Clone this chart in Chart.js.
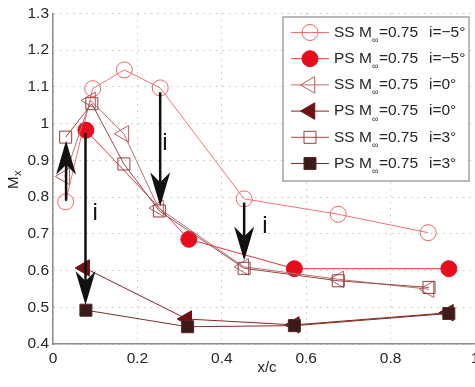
<!DOCTYPE html>
<html>
<head>
<meta charset="utf-8">
<script src="https://cdn.jsdelivr.net/npm/chart.js@4.4.1/dist/chart.umd.min.js"></script>
<style>
  html, body { margin: 0; padding: 0; background: #fff; overflow: hidden; }
  #wrap { width: 500px; height: 387px; }
</style>
</head>
<body>
<div id="wrap"><canvas id="chart" width="500" height="387"></canvas></div>
<script>
// --- data ---
const xSSm5 = [0.030, 0.094, 0.169, 0.254, 0.453, 0.676, 0.889];
const ySSm5 = [0.787, 1.095, 1.146, 1.097, 0.795, 0.753, 0.703];
const xPSm5 = [0.078, 0.322, 0.572, 0.938];
const yPSm5 = [0.982, 0.685, 0.605, 0.605];
const xSS0 = [0.028, 0.089, 0.168, 0.250, 0.452, 0.677, 0.891];
const ySS0 = [0.856, 1.063, 0.972, 0.770, 0.610, 0.576, 0.549];
const xPS0 = [0.075, 0.317, 0.572, 0.937];
const yPS0 = [0.607, 0.468, 0.452, 0.485];
const xSS3 = [0.030, 0.092, 0.168, 0.252, 0.453, 0.676, 0.891];
const ySS3 = [0.963, 1.054, 0.890, 0.762, 0.606, 0.572, 0.554];
const xPS3 = [0.078, 0.319, 0.572, 0.938];
const yPS3 = [0.492, 0.447, 0.450, 0.483];

const seriesNames = ['SS', 'PS', 'SS', 'PS', 'SS', 'PS'];
const seriesAngles = ['i=\u22125\u00b0', 'i=\u22125\u00b0', 'i=0\u00b0', 'i=0\u00b0', 'i=3\u00b0', 'i=3\u00b0'];

// incidence arrows (x, start y, tip y) and the "i" labels
const arrowX = [0.031, 0.077, 0.254, 0.453];
const arrowFrom = [0.790, 0.975, 1.085, 0.785];
const arrowTo = [0.953, 0.506, 0.775, 0.627];
const labelX = [0.100, 0.265, 0.502];
const labelY = [0.755, 0.945, 0.720];

const xTicks = [0, 0.2, 0.4, 0.6, 0.8, 1];

function pts(xs, ys) { return xs.map((x, i) => ({ x: x, y: ys[i] })); }

const FONT = '"Liberation Sans", Arial, Helvetica, sans-serif';

const datasets = [
  { data: pts(xSSm5, ySSm5), borderColor: '#f27272', backgroundColor: 'rgba(0,0,0,0)', pointBorderColor: '#f06464',
    pointBackgroundColor: 'rgba(0,0,0,0)', pointStyle: 'circle', pointRadius: 8, pointRotation: 0 },
  { data: pts(xPSm5, yPSm5), borderColor: '#e8343c', backgroundColor: '#e60e1c', pointBorderColor: '#e60e1c',
    pointBackgroundColor: '#e60e1c', pointStyle: 'circle', pointRadius: 8, pointRotation: 0 },
  { data: pts(xSS0, ySS0), borderColor: '#bb6d6d', backgroundColor: 'rgba(0,0,0,0)', pointBorderColor: '#b45c5c',
    pointBackgroundColor: 'rgba(0,0,0,0)', pointStyle: 'triangle', pointRadius: 9.5, pointRotation: -90 },
  { data: pts(xPS0, yPS0), borderColor: '#8a2222', backgroundColor: '#6e1212', pointBorderColor: '#6e1212',
    pointBackgroundColor: '#6e1212', pointStyle: 'triangle', pointRadius: 9.5, pointRotation: -90 },
  { data: pts(xSS3, ySS3), borderColor: '#9a4a4a', backgroundColor: 'rgba(0,0,0,0)', pointBorderColor: '#8e3f3f',
    pointBackgroundColor: 'rgba(0,0,0,0)', pointStyle: 'rect', pointRadius: 8.5, pointRotation: 0 },
  { data: pts(xPS3, yPS3), borderColor: '#7a2e2e', backgroundColor: '#3b1a1a', pointBorderColor: '#5a2626',
    pointBackgroundColor: '#3b1a1a', pointStyle: 'rect', pointRadius: 8.5, pointRotation: 0 }
];
datasets.forEach((d, i) => {
  d.showLine = true;
  d.borderWidth = 1;
  d.pointBorderWidth = 1;
  d.pointHoverRadius = d.pointRadius;
  d.tension = 0;
  d.fill = false;
  d.order = datasets.length - i;   // later series on top, as in the figure
});

// --- arrows, "i" labels, axis titles and legend ---
const decorPlugin = {
  id: 'decor',
  afterDatasetsDraw(chart) {
    const ctx = chart.ctx, xs = chart.scales.x, ys = chart.scales.y;
    ctx.save();
    ctx.fillStyle = '#111';
    ctx.strokeStyle = '#111';
    arrowX.forEach((ax, i) => {
      const px = xs.getPixelForValue(ax);
      const y0 = ys.getPixelForValue(arrowFrom[i]);
      const y1 = ys.getPixelForValue(arrowTo[i]);
      const d = y1 > y0 ? 1 : -1;
      const L = 34, hw = 10, notch = 10;
      ctx.lineWidth = 2.5;
      ctx.beginPath();
      ctx.moveTo(px, y0);
      ctx.lineTo(px, y1 - d * (L - notch));
      ctx.stroke();
      ctx.beginPath();
      ctx.moveTo(px, y1);
      ctx.lineTo(px - hw, y1 - d * L);
      ctx.lineTo(px, y1 - d * (L - notch));
      ctx.lineTo(px + hw, y1 - d * L);
      ctx.closePath();
      ctx.fill();
    });
    ctx.font = '24px ' + FONT;
    ctx.textAlign = 'center';
    ctx.textBaseline = 'middle';
    labelX.forEach((lx, i) => {
      ctx.fillText('i', xs.getPixelForValue(lx), ys.getPixelForValue(labelY[i]));
    });
    ctx.restore();
  },
  afterDraw(chart) {
    const ctx = chart.ctx;
    ctx.save();
    // axis titles
    ctx.fillStyle = '#262626';
    ctx.font = '15px ' + FONT;
    ctx.textAlign = 'center';
    ctx.textBaseline = 'middle';
    ctx.fillText('x/c', 267, 368);
    ctx.save();
    ctx.translate(18, 189);
    ctx.rotate(-Math.PI / 2);
    ctx.textAlign = 'left';
    ctx.textBaseline = 'alphabetic';
    ctx.fillText('M', 0, 0);
    ctx.font = '11px ' + FONT;
    ctx.fillText('x', 13, 3);
    ctx.restore();

    // legend box
    const bx = 283, by = 17, bw = 186, bh = 164;
    ctx.fillStyle = '#fff';
    ctx.fillRect(bx, by, bw, bh);
    ctx.strokeStyle = '#8c8c8c';
    ctx.lineWidth = 1.2;
    ctx.strokeRect(bx, by, bw, bh);
    datasets.forEach((d, i) => {
      const ry = 32.5 + 26.2 * i;
      ctx.strokeStyle = d.borderColor;
      ctx.lineWidth = 1;
      ctx.beginPath();
      ctx.moveTo(291, ry);
      ctx.lineTo(329, ry);
      ctx.stroke();
      ctx.fillStyle = d.pointBackgroundColor;
      ctx.strokeStyle = d.pointBorderColor;
      ctx.lineWidth = 1;
      Chart.helpers.drawPoint(ctx, {
        pointStyle: d.pointStyle, rotation: d.pointRotation, radius: d.pointRadius, borderWidth: 1
      }, 310, ry);
      ctx.fillStyle = '#262626';
      ctx.textAlign = 'left';
      ctx.textBaseline = 'middle';
      ctx.font = '15.5px ' + FONT;
      const head = seriesNames[i] + ' M';
      ctx.fillText(head, 334, ry);
      const w = ctx.measureText(head).width;
      ctx.font = '9px ' + FONT;
      ctx.fillText('\u221e', 334 + w, ry + 8);
      ctx.font = '15.5px ' + FONT;
      ctx.fillText('=0.75', 334 + w + 7, ry);
      ctx.fillText(seriesAngles[i], 429, ry);
    });
    ctx.restore();
  }
};

new Chart(document.getElementById('chart'), {
  type: 'line',
  data: { datasets: datasets },
  options: {
    responsive: false,
    animation: false,
    events: [],
    layout: { padding: { top: 12, right: 25, bottom: 0, left: 0 } },
    plugins: { legend: { display: false }, tooltip: { enabled: false } },
    scales: {
      x: {
        type: 'linear', min: 0, max: 1,
        afterBuildTicks: (s) => { s.ticks = xTicks.map(v => ({ value: v })); },
        afterFit: (s) => { s.height = 43; },
        ticks: { color: '#262626', font: { family: FONT, size: 15.5 }, padding: 5, maxRotation: 0,
                 callback: (v) => String(+v.toFixed(1)) },
        grid: { color: '#c4c4c4', drawTicks: false, lineWidth: 1 },
        border: { color: '#8c8c8c', width: 1.5, dash: [1.5, 5] }
      },
      y: {
        type: 'linear', min: 0.4, max: 1.3,
        afterFit: (s) => { s.width = 53; },
        ticks: { stepSize: 0.1, color: '#262626', font: { family: FONT, size: 15.5 }, padding: 4,
                 callback: (v) => String(+v.toFixed(1)) },
        grid: { color: '#c4c4c4', drawTicks: false, lineWidth: 1 },
        border: { color: '#8c8c8c', width: 1.5, dash: [1.5, 5] }
      }
    }
  },
  plugins: [decorPlugin]
});
</script>
</body>
</html>
